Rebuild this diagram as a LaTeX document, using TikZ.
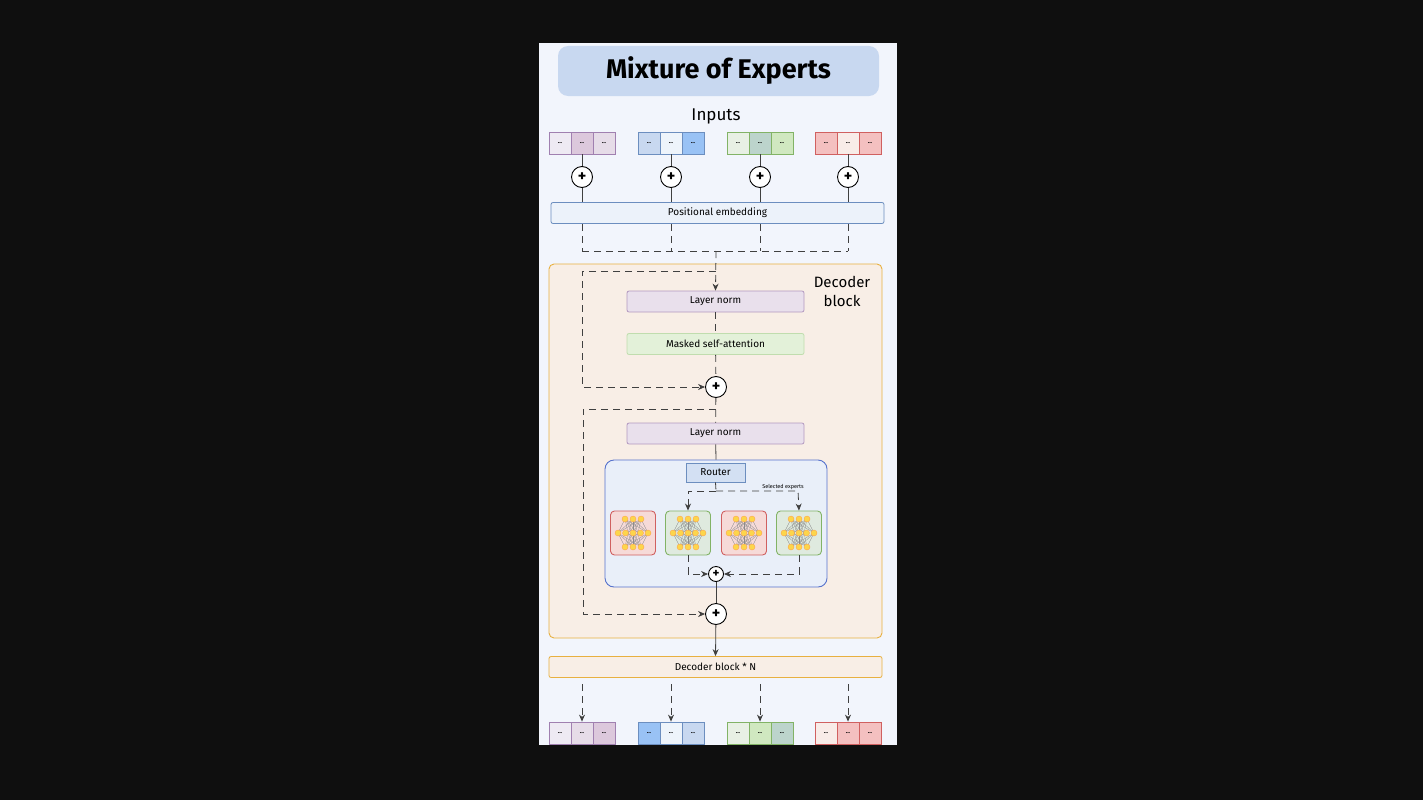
\documentclass[tikz,border=0pt]{standalone}
\usepackage{fontspec}
\setmainfont{Fira Sans}
\usetikzlibrary{arrows.meta}
\begin{document}
\begin{tikzpicture}[x=1pt,y=-1pt,
  box/.style={draw,rounded corners=2,line width=0.8pt,minimum height=21pt,inner sep=0pt,font=\fontsize{10}{12}\selectfont},
  cell/.style={draw,line width=0.8pt,minimum width=22pt,minimum height=22pt,inner sep=0pt,font=\fontsize{6}{6}\selectfont\bfseries},
  pl/.style={draw,circle,fill=white,line width=0.9pt,minimum size=21pt,inner sep=0pt,font=\fontsize{16}{16}\selectfont\bfseries},
  dsh/.style={dashed,dash pattern=on 7pt off 5pt,line width=0.8pt,draw=black!75},
  ln/.style={line width=0.8pt,draw=black!75},
  arr/.style={-{Stealth[length=7pt,width=6pt]}}]
\definecolor{bg}{HTML}{0F0F0F}
\definecolor{panel}{HTML}{F2F5FC}
\definecolor{pA}{HTML}{EEEAF3}\definecolor{pB}{HTML}{DCC8DC}\definecolor{pC}{HTML}{E6DCE8}\definecolor{pD}{HTML}{A080B0}
\definecolor{bA}{HTML}{C8D8F0}\definecolor{bB}{HTML}{EEF4FB}\definecolor{bC}{HTML}{99C2F5}\definecolor{bD}{HTML}{6C8EBF}
\definecolor{gA}{HTML}{E8F0E4}\definecolor{gB}{HTML}{BCD4CC}\definecolor{gC}{HTML}{D0E8C0}\definecolor{gD}{HTML}{82B366}
\definecolor{rA}{HTML}{F4C0C0}\definecolor{rB}{HTML}{F8ECE8}\definecolor{rD}{HTML}{D06060}
\definecolor{org}{HTML}{E8B040}\definecolor{decf}{HTML}{F8EEE6}
\fill[bg] (0,0) rectangle (1423,800);
\useasboundingbox (0,0) rectangle (1423,800);
\fill[panel] (539,43) rectangle (897,745);
% title
\node[fill=bA,rounded corners=10,minimum width=321pt,minimum height=50pt,font=\fontsize{27}{30}\selectfont\bfseries] (title) at (718.5,71) {Mixture of Experts};
\node[font=\fontsize{17}{20}\selectfont] (inputs) at (716,116) {Inputs};
% token groups
\newcommand{\tokgroup}[7]{% name, x, y, c1,c2,c3, border
  \node[cell,fill=#4,draw=#7] (#1a) at (#2-22,#3) {...};
  \node[cell,fill=#5,draw=#7] (#1b) at (#2,#3) {...};
  \node[cell,fill=#6,draw=#7] (#1c) at (#2+22,#3) {...};}
\tokgroup{i1}{582}{143}{pA}{pB}{pC}{pD}
\tokgroup{i2}{671}{143}{bA}{bB}{bC}{bD}
\tokgroup{i3}{760}{143}{gA}{gB}{gC}{gD}
\tokgroup{i4}{848}{143}{rA}{rB}{rA}{rD}
\tokgroup{o1}{582}{733}{pA}{pC}{pB}{pD}
\tokgroup{o2}{671}{733}{bC}{bB}{bA}{bD}
\tokgroup{o3}{760}{733}{gA}{gC}{gB}{gD}
\tokgroup{o4}{848}{733}{rB}{rA}{rA}{rD}
\node[box,fill=bB!60!bA!60,draw=bD,minimum width=333pt] (pos) at (717.5,213) {Positional embedding};
\foreach \i/\x in {1/582,2/671,3/760,4/848}{
  \node[pl] (p\i) at (\x,177) {+};
  \draw[ln] (i\i b.south) -- (p\i);
  \draw[ln] (p\i) -- (\x,202);
  \coordinate (d\i) at (\x,251);
  \draw[dsh] (\x,224) -- (d\i);
}
\draw[dsh] (d1) -- (d4);
% decoder block
\node[draw=org,fill=decf,rounded corners=5,line width=0.9pt,minimum width=333pt,minimum height=374pt,inner sep=0pt] (dec) at (715.5,451) {};
\node[align=center,font=\fontsize{15}{19}\selectfont] (dectxt) at (842,291) {Decoder\\block};
\node[box,fill=pA!70!pB,draw=pD!80,minimum width=177pt] (ln1) at (715.5,301.5) {Layer norm};
\node[box,fill=gC!60!white,draw=gC!80!gD,minimum width=177pt] (msa) at (715.5,344) {Masked self-attention};
\node[pl] (a1) at (716,387) {+};
\node[box,fill=pA!70!pB,draw=pD!80,minimum width=177pt] (ln2) at (715.5,433.5) {Layer norm};
\coordinate (jt) at (716,251);
\draw[dsh,arr] (jt) -- (ln1.north);
\coordinate (r1a) at (716,271); \coordinate (r1b) at (582,271); \coordinate (r1c) at (582,387);
\draw[dsh,arr] (r1a) -- (r1b) -- (r1c) -- (a1.west);
\draw[dsh] (ln1) -- (msa);
\draw[dsh] (msa) -- (a1);
\draw[dsh] (a1) -- (ln2);
\node[pl] (a2) at (716,614) {+};
\coordinate (r2a) at (716,409); \coordinate (r2b) at (583,409); \coordinate (r2c) at (583,614);
\draw[dsh,arr] (r2a) -- (r2b) -- (r2c) -- (a2.west);
% MoE
\node[draw=bD!80!blue,fill=bA!40!white,rounded corners=9,line width=0.9pt,minimum width=222pt,minimum height=127pt,inner sep=0pt] (moe) at (716,523.5) {};
\draw[ln] (ln2) -- (moe.north);
\node[draw=bD,fill=bA!70!bB,line width=0.9pt,minimum width=59pt,minimum height=19pt,inner sep=0pt,font=\fontsize{10}{12}\selectfont] (router) at (715.5,472.5) {Router};
\node[font=\fontsize{5.5}{6}\selectfont] (sel) at (783,487) {Selected experts};
\foreach \i/\x/\c/\d in {1/633/rB!60!rA/rD,2/688/gA!80!gB/gD,3/744/rB!60!rA/rD,4/799/gA!80!gB/gD}{
  \node[draw=\d,fill=\c,rounded corners=4,line width=0.9pt,minimum width=45pt,minimum height=44pt,inner sep=0pt] (e\i) at (\x,533) {};
  \begin{scope}[shift={(\x,533)}]
    \foreach \u in {-8,0,8} \foreach \v in {-12,-4,0,4,12} \draw[black!45,line width=0.3pt] (\u,-14) -- (\v*1.25,0);
    \foreach \u in {-8,0,8} \foreach \v in {-12,-4,0,4,12} \draw[black!45,line width=0.3pt] (\u,14) -- (\v*1.25,0);
    \foreach \u in {-8,0,8} {\fill[yellow!60!orange!70,draw=orange!70] (\u,-14) circle (3); \fill[yellow!60!orange!70,draw=orange!70] (\u,14) circle (3);}
    \foreach \v in {-15,-7.5,0,7.5,15} \fill[yellow!60!orange!70,draw=orange!70] (\v,0) circle (3);
  \end{scope}
}
\coordinate (rt) at (716,491); \coordinate (rl) at (688,491); \coordinate (rr) at (798,491);
\draw[dsh] (router.south) -- (rt);
\draw[dsh,arr] (rt) -- (rl) -- (e2.north);
\draw[dsh,arr] (rt) -- (rr) -- (e4.north);
\node[draw,circle,fill=white,line width=0.9pt,minimum size=15pt,inner sep=0pt,font=\fontsize{13}{13}\selectfont\bfseries] (m) at (716,574) {+};
\coordinate (ml) at (688,574); \coordinate (mr) at (799,574);
\draw[dsh,arr] (e2.south) -- (ml) -- (m.west);
\draw[dsh,arr] (e4.south) -- (mr) -- (m.east);
\draw[ln] (m) -- (a2);
\node[box,fill=decf,draw=org,minimum width=333pt] (decn) at (715.5,667) {Decoder block * N};
\draw[ln,arr] (a2) -- (decn.north);
\foreach \i/\x in {1/582,2/671,3/760,4/848}{
  \coordinate (s\i) at (\x,684);
  \draw[dsh,arr] (s\i) -- (o\i b.north);
}
\end{tikzpicture}
\end{document}
